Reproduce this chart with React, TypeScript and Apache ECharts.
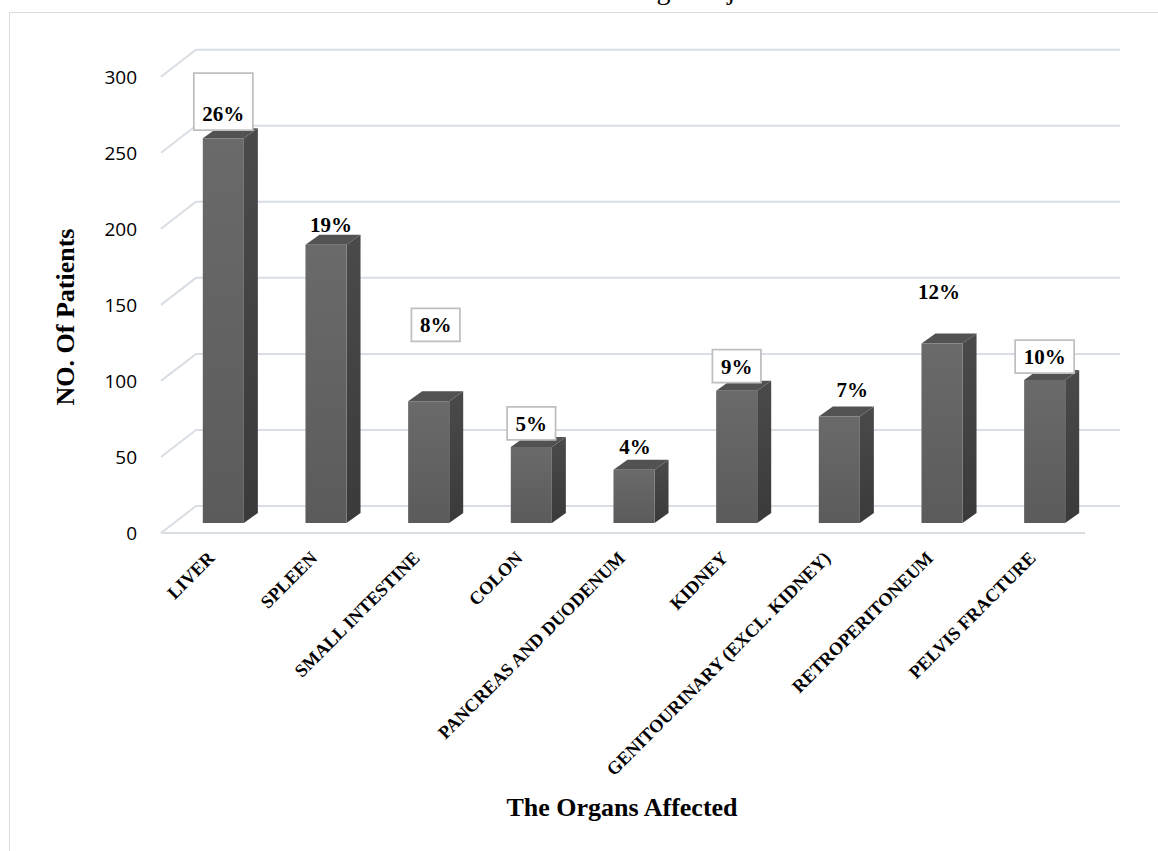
import React, { useEffect, useRef } from "react";
import * as echarts from "echarts";

const categories = [
  "LIVER",
  "SPLEEN",
  "SMALL INTESTINE",
  "COLON",
  "PANCREAS AND DUODENUM",
  "KIDNEY",
  "GENITOURINARY (EXCL. KIDNEY)",
  "RETROPERITONEUM",
  "PELVIS FRACTURE",
];
const patients = [253, 183, 80, 50, 35, 87, 70, 118, 94];
const percentLabels = ["26%", "19%", "8%", "5%", "4%", "9%", "7%", "12%", "10%"];
const yTicks = [0, 50, 100, 150, 200, 250, 300];

// label layout (pixels), kept apart from the data
const labelDx = [0, 5, 7, 0, 1, 0, 13, -3, 0];
const labelLift = [24, 20, 76, 23, 23, 24, 27, 52, 23];
const labelBoxed = [true, false, true, true, false, true, false, false, true];
const boxExtraTop = [24, 0, 0, 0, 0, 0, 0, 0, 0];

const SERIF = '"Liberation Serif", "Times New Roman", serif';
const GRID_COLOR = "#d9dde4";
const FRONT = { dx: -11, dy: 10 };
const BACK = { dx: 24, dy: -17 };
const BAR_DEPTH = { dx: 14, dy: -10 };

export default function App() {
  const ref = useRef<HTMLDivElement>(null);

  useEffect(() => {
    if (!ref.current) return;
    const chart = echarts.init(ref.current, undefined, { renderer: "svg" });

    const wallsRender = (params: any, api: any) => {
      const cs = params.coordSys;
      const t = api.value(1);
      const y = api.coord([0, t])[1];
      const left = cs.x;
      const right = cs.x + cs.width;
      const children: any[] = [
        {
          type: "polyline",
          shape: {
            points: [
              [left + FRONT.dx, y + FRONT.dy],
              [left + BACK.dx, y + BACK.dy],
              [right + BACK.dx, y + BACK.dy],
            ],
          },
          style: { stroke: GRID_COLOR, lineWidth: 2, fill: null },
        },
        {
          type: "text",
          x: 137,
          y: y + FRONT.dy,
          style: {
            text: String(t),
            fill: "#000",
            font: '19px "Open Sans", sans-serif',
            align: "right",
            verticalAlign: "middle",
            textAlign: "right",
            textVerticalAlign: "middle",
          },
        },
      ];
      if (t === 0) {
        children.push({
          type: "line",
          shape: {
            x1: left + FRONT.dx,
            y1: y + FRONT.dy,
            x2: right + FRONT.dx,
            y2: y + FRONT.dy,
          },
          style: { stroke: GRID_COLOR, lineWidth: 2 },
        });
      }
      return { type: "group", children };
    };

    const barsRender = (params: any, api: any) => {
      const i = params.dataIndex;
      const v = api.value(1);
      const base = api.coord([api.value(0), 0]);
      const top = api.coord([api.value(0), v]);
      const w = api.size([1, 0])[0] * 0.4;
      const cx = top[0];
      const x0 = cx - w / 2;
      const x1 = cx + w / 2;
      const yt = top[1];
      const yb = base[1];
      const dx = BAR_DEPTH.dx;
      const dy = BAR_DEPTH.dy;
      const children: any[] = [
        {
          type: "polygon",
          shape: {
            points: [
              [x1, yt],
              [x1 + dx, yt + dy],
              [x1 + dx, yb + dy],
              [x1, yb],
            ],
          },
          style: {
            fill: new echarts.graphic.LinearGradient(0, 0, 0, 1, [
              { offset: 0, color: "#4a4a4a" },
              { offset: 1, color: "#3a3a3a" },
            ]),
          },
        },
        {
          type: "polygon",
          shape: {
            points: [
              [x0, yt],
              [x0 + dx, yt + dy],
              [x1 + dx, yt + dy],
              [x1, yt],
            ],
          },
          style: { fill: "#525252" },
        },
        {
          type: "rect",
          shape: { x: x0, y: yt, width: w, height: yb - yt },
          style: {
            fill: new echarts.graphic.LinearGradient(0, 0, 0, 1, [
              { offset: 0, color: "#6a6a6a" },
              { offset: 1, color: "#5b5b5b" },
            ]),
          },
        },
        {
          type: "text",
          x: cx - 12,
          y: yb + 32,
          rotation: Math.PI / 4,
          style: {
            text: categories[i],
            fill: "#000",
            font: `bold 18.3px ${SERIF}`,
            align: "right",
            verticalAlign: "middle",
            textAlign: "right",
            textVerticalAlign: "middle",
          },
        },
      ];
      const label = percentLabels[i];
      const tx = cx + labelDx[i];
      const ty = yt - labelLift[i];
      if (labelBoxed[i]) {
        const tw = ((label.length - 1) * 0.5 + 1) * 21;
        const bw = tw + 17;
        const extra = boxExtraTop[i];
        children.push({
          type: "rect",
          shape: { x: tx - bw / 2, y: ty - 17 - extra, width: bw, height: 33 + extra },
          style: { fill: "#ffffff", stroke: "#bfbfbf", lineWidth: 1.75 },
        });
      }
      children.push({
        type: "text",
        x: tx,
        y: ty,
        style: {
          text: label,
          fill: "#000",
          font: `bold 21px ${SERIF}`,
          align: "center",
          verticalAlign: "middle",
          textAlign: "center",
          textVerticalAlign: "middle",
        },
      });
      return { type: "group", children };
    };

    const option: any = {
      animation: false,
      backgroundColor: "#ffffff",
      grid: { left: 172, top: 66.7, width: 924, height: 456.3 },
      xAxis: {
        type: "category",
        data: categories,
        axisLine: { show: false },
        axisTick: { show: false },
        splitLine: { show: false },
        axisLabel: { show: false },
      },
      yAxis: {
        type: "value",
        min: 0,
        max: 300,
        interval: 50,
        axisLine: { show: false },
        axisTick: { show: false },
        axisLabel: { show: false },
        splitLine: { show: false },
      },
      graphic: [
        {
          type: "rect",
          shape: { x: 9.5, y: 12.5, width: 1300, height: 1000 },
          style: { fill: null, stroke: "#d9dde2", lineWidth: 1 },
          silent: true,
        },
        {
          type: "text",
          x: 494.5,
          y: -10.5,
          style: {
            text: "Abdominal Organ Injuries",
            fill: "#000",
            font: `28px ${SERIF}`,
            align: "left",
            verticalAlign: "middle",
            textAlign: "left",
            textVerticalAlign: "middle",
          },
        },
        {
          type: "text",
          x: 65,
          y: 317,
          rotation: Math.PI / 2,
          style: {
            text: "NO. Of Patients",
            fill: "#000",
            font: `bold 26px ${SERIF}`,
            align: "center",
            verticalAlign: "middle",
            textAlign: "center",
            textVerticalAlign: "middle",
          },
        },
        {
          type: "text",
          x: 622,
          y: 807,
          style: {
            text: "The Organs Affected",
            fill: "#000",
            font: `bold 26px ${SERIF}`,
            align: "center",
            verticalAlign: "middle",
            textAlign: "center",
            textVerticalAlign: "middle",
          },
        },
      ],
      series: [
        {
          type: "custom",
          name: "walls",
          z: 1,
          silent: true,
          renderItem: wallsRender,
          encode: { x: 0, y: 1 },
          data: yTicks.map((t) => [0, t]),
        },
        {
          type: "custom",
          name: "NO. Of Patients",
          z: 3,
          renderItem: barsRender,
          encode: { x: 0, y: 1 },
          data: patients.map((v, i) => [i, v]),
        },
      ],
    };

    chart.setOption(option);
    return () => chart.dispose();
  }, []);

  return (
    <div
      ref={ref}
      style={{ position: "absolute", left: 0, top: 0, width: 1158, height: 851, background: "#fff" }}
    />
  );
}
